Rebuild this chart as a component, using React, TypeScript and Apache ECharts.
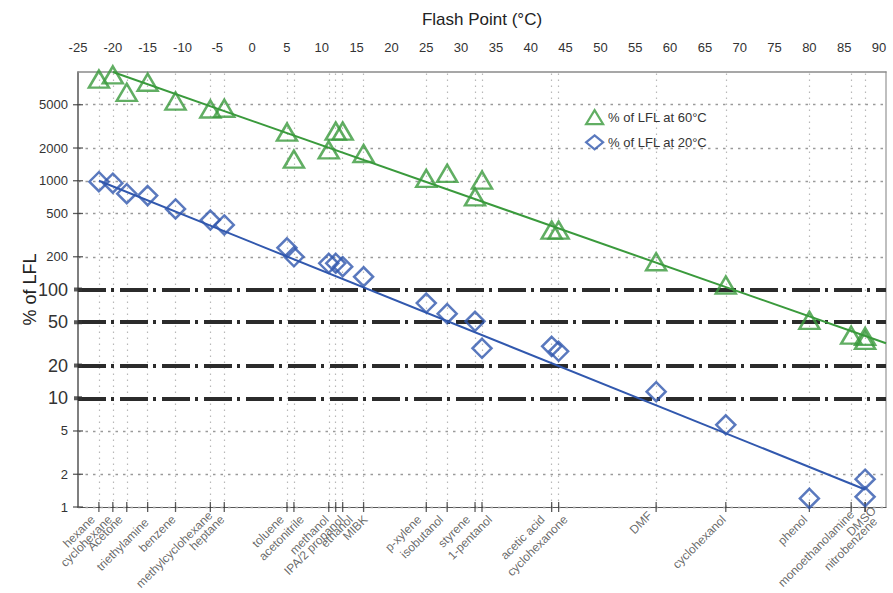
import React, { useEffect, useRef } from 'react';
import * as echarts from 'echarts';

const FONT = "'Liberation Sans', Arial, Helvetica, sans-serif";

// ---------- data ----------
const names = [
  'hexane', 'cyclohexane', 'Acetone', 'triethylamine', 'benzene', 'methylcyclohexane', 'heptane',
  'toluene', 'acetonitrile', 'methanol', 'IPA/2 propanol', 'ethanol', 'MIBK', 'p-xylene', 'isobutanol',
  'styrene', '1-pentanol', 'acetic acid', 'cyclohexanone', 'DMF', 'cyclohexanol', 'phenol',
  'monoethanolamine', 'DMSO', 'nitrobenzene',
];
const flashPoints = [-22, -20, -18, -15, -11, -6, -4, 5, 6, 11, 12, 13, 16, 25, 28, 32, 33, 43, 44, 58, 68, 80, 86, 88, 88];
const lfl60 = [8600, 9400, 6500, 8050, 5400, 4570, 4640, 2800, 1580, 1920, 2860, 2860, 1780, 1050, 1170, 710, 1015, 352, 352, 180, 110, 52, 38, 37, 34];
const lfl20 = [980, 950, 760, 730, 550, 435, 392, 242, 200, 174, 174, 162, 131, 75, 60, 51, 28.8, 30, 27, 11.5, 5.7, 1.2, null, 1.8, 1.24];
const fit60 = [[-20, 10000], [91, 32]];
const fit20 = [[-22, 1000], [88, 1.45]];
const xTickLabels = [-25, -20, -15, -10, -5, 0, 5, 10, 15, 20, 25, 30, 35, 40, 45, 50, 55, 60, 65, 70, 75, 80, 85, 90];
const yTickValues = [1, 2, 5, 10, 20, 50, 100, 200, 500, 1000, 2000, 5000];
const majorYValues = [10, 20, 50, 100];
const seriesNames = ['% of LFL at 60°C', '% of LFL at 20°C'];

// ---------- styles / layout ----------
const GREEN = '#3a9a3c';
const BLUE = '#3158ae';
const TEXT = '#333';
const X_MIN = -25;
const X_MAX = 91;
const LABEL_DROP = 10.5;
const labelDx: Record<string, number> = {
  hexane: -6, cyclohexane: -3, Acetone: -6, triethylamine: -1, benzene: -2, methylcyclohexane: 0, heptane: -2,
  toluene: -5, acetonitrile: 8, methanol: -2, 'IPA/2 propanol': 6, ethanol: 8, MIBK: 2, 'p-xylene': -7,
  isobutanol: -6, styrene: -7, '1-pentanol': 8, 'acetic acid': -9, cyclohexanone: 7, DMF: -6, cyclohexanol: -2,
  phenol: -4, monoethanolamine: 1, DMSO: 9, nitrobenzene: 10,
};
const labelDy: Record<string, number> = {
  methylcyclohexane: -4, DMSO: -9, DMF: -4, nitrobenzene: 2, triethylamine: 3, monoethanolamine: -5,
};

function buildOption() {
  const hLines = yTickValues.map((v) => {
    const major = majorYValues.includes(v);
    return {
      yAxis: v,
      lineStyle: major
        ? { type: [28, 5, 3, 6], width: 4, color: '#2b2b2b', cap: 'butt' }
        : { type: [2.5, 5], width: 1.3, color: '#9a9a9a' },
      label: {
        show: true,
        position: 'start',
        distance: 10,
        formatter: String(v),
        fontSize: major ? 18 : 13,
        color: TEXT,
        fontFamily: FONT,
      },
    };
  });
  const vLines = Array.from(new Set(flashPoints)).map((x) => ({
    xAxis: x,
    lineStyle: { type: [1.5, 4.5], width: 1.2, color: '#b8b8b8' },
    label: { show: false },
  }));

  return {
    animation: false,
    textStyle: { fontFamily: FONT },
    grid: { left: 78, right: 7, top: 72, bottom: 86, containLabel: false },
    legend: {
      orient: 'vertical',
      left: 585,
      top: 109,
      padding: 0,
      itemWidth: 17,
      itemHeight: 14,
      itemGap: 9,
      textStyle: { fontSize: 13, color: TEXT, fontFamily: FONT },
      data: [
        { name: seriesNames[0], icon: 'triangle', itemStyle: { color: 'rgba(255,255,255,0)', borderColor: GREEN, borderWidth: 2.2 } },
        { name: seriesNames[1], icon: 'diamond', itemStyle: { color: 'rgba(255,255,255,0)', borderColor: BLUE, borderWidth: 2.2 } },
      ],
    },
    xAxis: [
      {
        type: 'value',
        position: 'top',
        min: X_MIN,
        max: X_MAX,
        interval: 5,
        name: 'Flash Point (°C)',
        nameLocation: 'middle',
        nameGap: 44,
        nameTextStyle: { fontSize: 17, color: '#222', fontFamily: FONT },
        axisLine: { show: true, onZero: false, lineStyle: { color: '#8a8a8a', width: 1.5 } },
        axisTick: { show: false },
        splitLine: { show: false },
        axisLabel: {
          margin: 18,
          fontSize: 13,
          color: TEXT,
          fontFamily: FONT,
          showMaxLabel: false,
          formatter: (v: number) => (xTickLabels.includes(v) ? String(v) : ''),
        },
      },
      {
        type: 'value',
        position: 'bottom',
        min: X_MIN,
        max: X_MAX,
        axisLine: { show: true, onZero: false, lineStyle: { color: '#555', width: 1.2 } },
        axisTick: { show: false },
        axisLabel: { show: false },
        splitLine: { show: false },
      },
    ],
    yAxis: [
      {
        type: 'log',
        logBase: 10,
        min: 1,
        max: 10000,
        position: 'left',
        name: '% of LFL',
        nameLocation: 'middle',
        nameGap: 39,
        nameRotate: 90,
        nameTextStyle: { fontSize: 18, color: '#222', fontFamily: FONT },
        axisLine: { show: true, onZero: false, lineStyle: { color: '#555', width: 1.5 } },
        axisTick: { show: false },
        axisLabel: { show: false },
        splitLine: { show: false },
      },
      {
        type: 'log',
        logBase: 10,
        min: 1,
        max: 10000,
        position: 'right',
        axisLine: { show: true, onZero: false, lineStyle: { color: '#aaa', width: 1.5 } },
        axisTick: { show: false },
        axisLabel: { show: false },
        splitLine: { show: false },
      },
    ],
    series: [
      {
        name: 'grid',
        type: 'line',
        data: [[X_MIN, 1]],
        symbol: 'none',
        lineStyle: { opacity: 0 },
        silent: true,
        z: 1,
        markLine: {
          silent: true,
          symbol: ['none', 'none'],
          z: 1,
          animation: false,
          label: { show: false },
          data: [...vLines, ...hLines],
        },
      },
      {
        name: 'yticks',
        type: 'scatter',
        silent: true,
        clip: false,
        z: 4,
        symbol: 'rect',
        itemStyle: { color: '#333' },
        data: yTickValues.map((v) => ({
          value: [X_MIN, v],
          symbolSize: majorYValues.includes(v) ? [8, 4] : [10, 1.3],
        })),
      },
      {
        name: 'xticks',
        type: 'scatter',
        silent: true,
        clip: false,
        z: 4,
        symbol: 'rect',
        symbolSize: [1.3, 10],
        itemStyle: { color: '#333' },
        label: {
          show: true,
          formatter: '{b}',
          rotate: 45,
          align: 'right',
          verticalAlign: 'middle',
          fontSize: 12,
          color: '#444',
          fontFamily: FONT,
        },
        data: names.map((n, i) => ({
          value: [flashPoints[i], 1],
          name: n,
          label: { position: [0.65 + (labelDx[n] ?? 0), 5 + LABEL_DROP + (labelDy[n] ?? 0)] },
        })),
      },
      {
        name: 'fit60',
        type: 'line',
        data: fit60,
        symbol: 'none',
        silent: true,
        z: 5,
        lineStyle: { color: GREEN, width: 2 },
      },
      {
        name: 'fit20',
        type: 'line',
        data: fit20,
        symbol: 'none',
        silent: true,
        z: 5,
        lineStyle: { color: BLUE, width: 2 },
      },
      {
        name: seriesNames[0],
        type: 'scatter',
        clip: false,
        z: 10,
        symbol: 'triangle',
        symbolSize: [20, 17],
        itemStyle: { color: 'rgba(255,255,255,0)', borderColor: GREEN, borderWidth: 2.5 },
        data: flashPoints.map((x, i) => [x, lfl60[i]]),
      },
      {
        name: seriesNames[1],
        type: 'scatter',
        clip: false,
        z: 10,
        symbol: 'diamond',
        symbolSize: [19, 19],
        itemStyle: { color: 'rgba(255,255,255,0)', borderColor: BLUE, borderWidth: 2.5 },
        data: flashPoints
          .map((x, i) => [x, lfl20[i]])
          .filter((d) => d[1] != null),
      },
    ],
  };
}

export default function App() {
  const ref = useRef<HTMLDivElement>(null);
  useEffect(() => {
    if (!ref.current) return;
    const chart = echarts.init(ref.current, null, { renderer: 'svg' });
    chart.setOption(buildOption() as any);
    return () => chart.dispose();
  }, []);
  return (
    <div
      ref={ref}
      style={{ position: 'fixed', left: 0, top: 0, width: 893, height: 593, background: '#fff' }}
    />
  );
}
